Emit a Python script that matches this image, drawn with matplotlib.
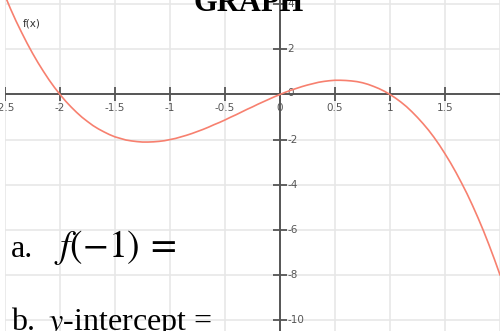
import numpy as np
import matplotlib.pyplot as plt

# curve f(x), values
x_vals = [-2.5, -2.45, -2.4, -2.35, -2.3, -2.25, -2.2, -2.15, -2.1, -2.05,
          -2.0, -1.95, -1.9, -1.85, -1.8, -1.75, -1.7, -1.65, -1.6, -1.55,
          -1.5, -1.45, -1.4, -1.35, -1.3, -1.25, -1.2, -1.15, -1.1, -1.05,
          -1.0, -0.95, -0.9, -0.85, -0.8, -0.75, -0.7, -0.65, -0.6, -0.55,
          -0.5, -0.45, -0.4, -0.35, -0.3, -0.25, -0.2, -0.15, -0.1, -0.05,
          0.0, 0.05, 0.1, 0.15, 0.2, 0.25, 0.3, 0.35, 0.4, 0.45,
          0.5, 0.55, 0.6, 0.65, 0.7, 0.75, 0.8, 0.85, 0.9, 0.95,
          1.0, 1.05, 1.1, 1.15, 1.2, 1.25, 1.3, 1.35, 1.4, 1.45,
          1.5, 1.55, 1.6, 1.65, 1.7, 1.75, 1.8, 1.85, 1.9, 1.95, 2.0]
y_vals = [4.38, 3.80, 3.26, 2.76, 2.28, 1.83, 1.41, 1.02, 0.65, 0.31,
          0.0, -0.29, -0.55, -0.79, -1.01, -1.20, -1.38, -1.53, -1.66, -1.78,
          -1.88, -1.95, -2.02, -2.06, -2.09, -2.11, -2.11, -2.10, -2.08, -2.05,
          -2.0, -1.95, -1.88, -1.81, -1.73, -1.64, -1.55, -1.45, -1.34, -1.24,
          -1.13, -1.01, -0.90, -0.78, -0.66, -0.55, -0.43, -0.32, -0.21, -0.10,
          0.0, 0.10, 0.19, 0.27, 0.35, 0.42, 0.48, 0.54, 0.58, 0.61,
          0.63, 0.63, 0.62, 0.60, 0.57, 0.52, 0.45, 0.36, 0.26, 0.14,
          0.0, -0.16, -0.34, -0.54, -0.77, -1.02, -1.29, -1.58, -1.90, -2.25,
          -2.63, -3.03, -3.46, -3.92, -4.40, -4.92, -5.47, -6.05, -6.67, -7.32, -8.0]

x_ticks = [-2.5, -2.0, -1.5, -1.0, -0.5, 0.0, 0.5, 1.0, 1.5]
x_labels = ['-2.5', '-2', '-1.5', '-1', '-0.5', '0', '0.5', '1', '1.5']
y_ticks = [4, 2, -2, -4, -6, -8, -10]
y_labels = ['4', '2', '-2', '-4', '-6', '-8', '-10']

plt.rcParams['mathtext.fontset'] = 'stix'

fig = plt.figure(figsize=(5.0, 3.31), dpi=100)
ax = fig.add_axes([0.01, 0.0, 0.99, 1.0])
ax.set_xlim(-2.476, 1.970)
ax.set_ylim(-10.49, 4.19)

# grid
ax.set_xticks(np.arange(-2.5, 2.01, 0.5))
ax.set_yticks(np.arange(-10, 4.1, 2))
ax.grid(color='#e6e6e6', linewidth=1.1)
ax.tick_params(length=0, labelbottom=False, labelleft=False)
for s in ax.spines.values():
    s.set_visible(False)

# axes lines + tick marks
ax.axhline(0, color='#555555', lw=1.4, zorder=2)
ax.axvline(0, color='#555555', lw=1.4, zorder=2)
ax.plot(x_ticks, [0]*len(x_ticks), ls='none', marker='|', ms=10, mew=1.3, color='#555555', zorder=2)
ax.plot([0]*len(y_ticks), y_ticks, ls='none', marker='_', ms=10, mew=1.3, color='#555555', zorder=2)

for xt, lab in zip(x_ticks, x_labels):
    ax.annotate(lab, (xt, 0), xytext=(0, -10), textcoords='offset points',
                ha='center', va='center', fontsize=7.5, color='#555555', annotation_clip=False)
for yt, lab in zip(y_ticks, y_labels):
    ax.annotate(lab, (0, yt), xytext=(5.5, 0), textcoords='offset points',
                ha='left', va='center', fontsize=7.5, color='#555555', annotation_clip=False)
ax.annotate('0', (0, 0), xytext=(5.5, 1), textcoords='offset points',
            ha='left', va='center', fontsize=7.5, color='#555555')

ax.plot(x_vals, y_vals, color='#f7806f', lw=1.2, zorder=3)

fig.text(0.046, 0.93, 'f(x)', fontsize=7.5, color='#333333', ha='left', va='center')

# worksheet text laid over the graph
fig.text(0.497, 1 - 11/331, 'GRAPH', family='Liberation Serif', weight='bold',
         fontsize=22, ha='center', va='baseline')
fig.text(0.022, 1 - 257/331, 'a.', family='Liberation Serif', fontsize=23, va='baseline')
fig.text(0.108, 1 - 257/331, r'$f(-1)\:=$', fontsize=27, va='baseline')
fig.text(0.022, 1 - 330/331, 'b.', family='Liberation Serif', fontsize=23, va='baseline')
fig.text(0.096, 1 - 330/331, r'$y$-intercept =', family='Liberation Serif', fontsize=23, va='baseline')

fig.savefig('out.png', dpi=100)
